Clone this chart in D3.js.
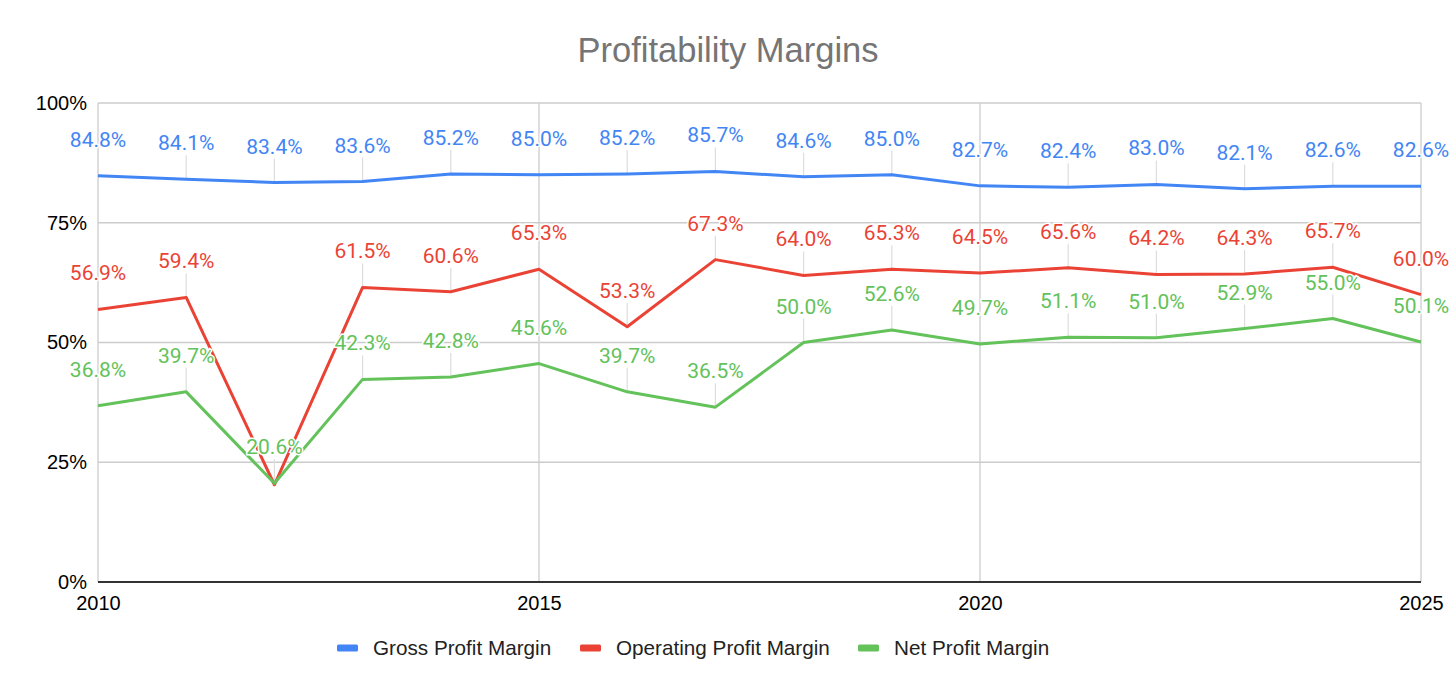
<!DOCTYPE html>
<html>
<head>
<meta charset="utf-8">
<script src="https://cdn.jsdelivr.net/npm/d3@7"></script>
<style>
  body { margin: 0; background: #fff; }
  svg { display: block; }
</style>
</head>
<body>
<svg id="chart" width="1456" height="694"></svg>
<script>
var years = [2010, 2011, 2012, 2013, 2014, 2015, 2016, 2017, 2018, 2019, 2020, 2021, 2022, 2023, 2024, 2025];
var grossMargin = [84.8, 84.1, 83.4, 83.6, 85.2, 85.0, 85.2, 85.7, 84.6, 85.0, 82.7, 82.4, 83.0, 82.1, 82.6, 82.6];
var operatingMargin = [56.9, 59.4, 20.3, 61.5, 60.6, 65.3, 53.3, 67.3, 64.0, 65.3, 64.5, 65.6, 64.2, 64.3, 65.7, 60.0];
var netMargin = [36.8, 39.7, 20.6, 42.3, 42.8, 45.6, 39.7, 36.5, 50.0, 52.6, 49.7, 51.1, 51.0, 52.9, 55.0, 50.1];
var seriesNames = ['Gross Profit Margin', 'Operating Profit Margin', 'Net Profit Margin'];
var yTicks = [0, 25, 50, 75, 100];
var xTicks = [2010, 2015, 2020, 2025];

var colors = ['#4285f4', '#ea4335', '#63c25a'];
var axisFont = '"Liberation Sans", Arial, sans-serif',
    labelFont = 'Roboto, "Liberation Sans", sans-serif';

var svg = d3.select('#chart'),
    plotL = 98, plotR = 1421, plotT = 103, plotB = 582;

var x = d3.scaleLinear().domain([2010, 2025]).range([plotL, plotR]);
var y = d3.scaleLinear().domain([0, 100]).range([plotB, plotT]);

// title
svg.append('text')
  .attr('x', 728).attr('y', 62)
  .attr('text-anchor', 'middle')
  .style('font-family', axisFont).style('font-size', '34.5px').style('fill', '#757575')
  .text('Profitability Margins');

// grid
var grid = svg.append('g');
grid.selectAll('line.h').data(yTicks.filter(function(d){ return d > 0; })).enter().append('line')
  .attr('x1', plotL).attr('x2', plotR)
  .attr('y1', function(d){ return y(d); }).attr('y2', function(d){ return y(d); })
  .style('stroke', '#cccccc').style('stroke-width', 1.3);
grid.selectAll('line.v').data(xTicks).enter().append('line')
  .attr('y1', plotT).attr('y2', plotB)
  .attr('x1', function(d){ return x(d); }).attr('x2', function(d){ return x(d); })
  .style('stroke', '#cccccc').style('stroke-width', 1.3);

// axes via d3 then restyled
var yAxis = svg.append('g').attr('transform', 'translate(' + (plotL - 11) + ',0)')
  .call(d3.axisLeft(y).tickValues(yTicks).tickSize(0).tickPadding(0).tickFormat(function(d){ return d + '%'; }));
yAxis.select('.domain').remove();
yAxis.selectAll('text').style('font-family', axisFont).style('font-size', '20px').style('fill', '#000');

var xAxis = svg.append('g').attr('transform', 'translate(0,' + plotB + ')')
  .call(d3.axisBottom(x).tickValues(xTicks).tickSize(0).tickPadding(14).tickFormat(d3.format('d')));
xAxis.select('.domain').remove();
xAxis.selectAll('text').style('font-family', axisFont).style('font-size', '20px').style('fill', '#000');

svg.append('line')
  .attr('x1', plotL).attr('x2', plotR).attr('y1', plotB).attr('y2', plotB)
  .style('stroke', '#333').style('stroke-width', 2);

// lines
var allSeries = [grossMargin, operatingMargin, netMargin];
var line = d3.line()
  .x(function(d, i){ return x(years[i]); })
  .y(function(d){ return y(d); });

var leaders = svg.append('g');
svg.selectAll('path.series').data(allSeries).enter().append('path')
  .attr('d', line)
  .style('fill', 'none')
  .style('stroke', function(d, i){ return colors[i]; })
  .style('stroke-width', 3)
  .style('stroke-linejoin', 'round');

// data labels, net first so it wins collisions
var labels = svg.append('g'), placed = [];
[2, 0, 1].forEach(function(s){
  allSeries[s].forEach(function(v, i){
    var px = x(years[i]), py = y(v),
        base = py - 29, w = 56, h = 17;
    var box = {x0: px - w / 2, x1: px + w / 2, y0: base - h, y1: base};
    var hit = placed.some(function(b){
      return box.x0 < b.x1 && box.x1 > b.x0 && box.y0 < b.y1 && box.y1 > b.y0;
    });
    if (hit) return;
    placed.push(box);
    leaders.append('line')
      .attr('x1', px).attr('x2', px).attr('y1', base + 5).attr('y2', py)
      .style('stroke', '#dddddd').style('stroke-width', 1.2);
    labels.append('text')
      .attr('x', px).attr('y', base)
      .attr('text-anchor', 'middle')
      .style('font-family', labelFont).style('font-size', '21px')
      .style('fill', colors[s])
      .style('stroke', '#fff').style('stroke-width', 3).style('paint-order', 'stroke')
      .text(v.toFixed(1) + '%');
  });
});

// legend
var legendX = [337, 580, 858];
var legend = svg.append('g').selectAll('g').data(seriesNames).enter().append('g')
  .attr('transform', function(d, i){ return 'translate(' + legendX[i] + ',648)'; });
legend.append('rect')
  .attr('x', 0).attr('y', -3.5).attr('width', 21).attr('height', 7).attr('rx', 1.5)
  .style('fill', function(d, i){ return colors[i]; });
legend.append('text')
  .attr('x', 36).attr('y', 7)
  .style('font-family', axisFont).style('font-size', '20.7px').style('fill', '#222')
  .text(function(d){ return d; });
</script>
</body>
</html>
